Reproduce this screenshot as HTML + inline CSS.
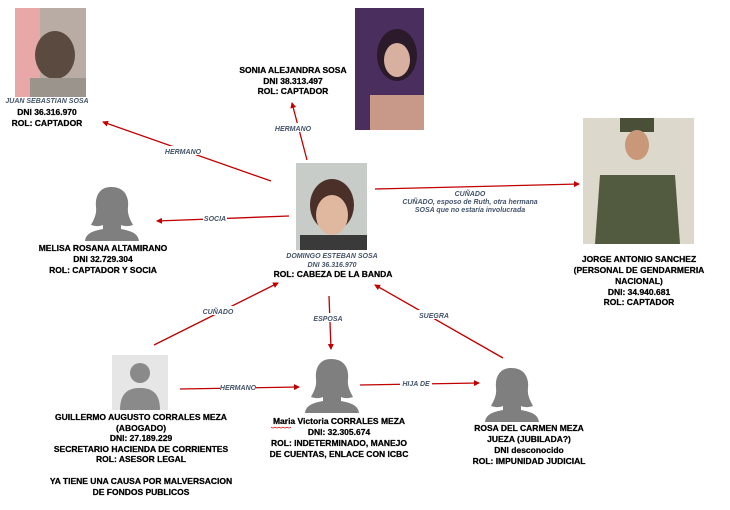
<!DOCTYPE html>
<html><head><meta charset="utf-8"><style>
body{margin:0;background:#fff}
svg{display:block}
.t{font-family:"Liberation Sans",Arial,sans-serif;font-weight:bold;font-size:8.5px;fill:#000;stroke:#000;stroke-width:0.25;text-anchor:middle}
.l{font-family:"Liberation Sans",Arial,sans-serif;font-weight:bold;font-style:italic;font-size:7px;fill:#44546a;text-anchor:middle}
</style></head><body>
<svg width="730" height="510" viewBox="0 0 730 510" xmlns="http://www.w3.org/2000/svg">
<defs>
<marker id="a" markerWidth="6" markerHeight="6" refX="5" refY="3" orient="auto" markerUnits="userSpaceOnUse"><path d="M0,0 L6,3 L0,6 z" fill="#c00000"/></marker>
<g id="fem"><path d="M26,2 C14,2 10,12 11,22 C12,30 8,36 6,40 C12,42 16,41 18,40 L18,44 C8,46 1,48 0,56 L54,56 C53,48 46,46 36,44 L36,40 C38,41 42,42 48,40 C46,36 42,30 43,22 C44,12 40,2 26,2 z" fill="#7f7f7f"/></g>
</defs>

<rect x="15" y="8" width="71" height="89" fill="#b8aca4"/>
<rect x="15" y="8" width="25" height="89" fill="#e8a8a8"/>
<ellipse cx="55" cy="55" rx="20" ry="24" fill="#5a4a40"/>
<rect x="30" y="78" width="56" height="19" fill="#9a948c"/>

<rect x="355" y="8" width="69" height="122" fill="#4a2e5e"/>
<ellipse cx="397" cy="55" rx="20" ry="26" fill="#2a1a2a"/>
<ellipse cx="397" cy="60" rx="13" ry="17" fill="#d8b0a0"/>
<rect x="370" y="95" width="54" height="35" fill="#c89888"/>

<rect x="296" y="163" width="71" height="87" fill="#c8ccc8"/>
<ellipse cx="332" cy="205" rx="22" ry="26" fill="#4a3028"/>
<ellipse cx="332" cy="215" rx="16" ry="20" fill="#e0b8a0"/>
<rect x="300" y="235" width="67" height="15" fill="#3a3a3a"/>

<rect x="583" y="118" width="111" height="126" fill="#ddd8cc"/>
<rect x="620" y="118" width="34" height="14" fill="#4a5038"/>
<ellipse cx="637" cy="145" rx="12" ry="15" fill="#c89878"/>
<path d="M600,175 L675,175 L680,244 L595,244 z" fill="#525a40"/>

<use href="#fem" x="85" y="185"/>
<rect x="112" y="355" width="56" height="55" fill="#e6e6e6"/>
<circle cx="140" cy="373" r="10" fill="#8a8a8a"/>
<path d="M120,410 C120,393 128,388 140,388 C152,388 160,393 160,410 z" fill="#8a8a8a"/>
<use href="#fem" x="305" y="357"/>
<use href="#fem" x="485" y="366"/>

<g stroke="#c00000" stroke-width="1.3" fill="none" marker-end="url(#a)">
<line x1="271" y1="181" x2="103" y2="122"/>
<line x1="307" y1="160" x2="292" y2="103"/>
<line x1="289" y1="216" x2="157" y2="221"/>
<line x1="375" y1="189" x2="579" y2="184"/>
<line x1="154" y1="345" x2="278" y2="283"/>
<line x1="329" y1="296" x2="331" y2="349"/>
<line x1="503" y1="358" x2="375" y2="285"/>
<line x1="180" y1="389" x2="299" y2="387"/>
<line x1="360" y1="385" x2="479" y2="383"/>
</g>
<g fill="#fff">
<rect x="163" y="146" width="40" height="9"/>
<rect x="274" y="123" width="38" height="9"/>
<rect x="203" y="213" width="24" height="9"/>
<rect x="201" y="306" width="34" height="9"/>
<rect x="312" y="313" width="32" height="9"/>
<rect x="418" y="310" width="32" height="9"/>
<rect x="220" y="382" width="36" height="9"/>
<rect x="400" y="378" width="32" height="9"/>
</g>
<g class="l">
<text x="183" y="154">HERMANO</text>
<text x="293" y="131">HERMANO</text>
<text x="215" y="221">SOCIA</text>
<text x="470" y="196">CUÑADO</text>
<text x="470" y="204">CUÑADO, esposo de Ruth, otra hermana</text>
<text x="470" y="212">SOSA que no estaría involucrada</text>
<text x="218" y="314">CUÑADO</text>
<text x="328" y="321">ESPOSA</text>
<text x="434" y="318">SUEGRA</text>
<text x="238" y="390">HERMANO</text>
<text x="416" y="386">HIJA DE</text>
<text x="47" y="103">JUAN SEBASTIAN SOSA</text>
<text x="332" y="258">DOMINGO ESTEBAN SOSA</text>
<text x="332" y="267">DNI 36.316.970</text>
</g>

<g class="t">
<text x="47" y="115">DNI 36.316.970</text>
<text x="47" y="126">ROL: CAPTADOR</text>
<text x="293" y="73">SONIA ALEJANDRA SOSA</text>
<text x="293" y="84">DNI 38.313.497</text>
<text x="293" y="94">ROL: CAPTADOR</text>
<text x="333" y="277">ROL: CABEZA DE LA BANDA</text>
<text x="103" y="251">MELISA ROSANA ALTAMIRANO</text>
<text x="103" y="262">DNI 32.729.304</text>
<text x="103" y="273">ROL: CAPTADOR Y SOCIA</text>
<text x="639" y="262">JORGE ANTONIO SANCHEZ</text>
<text x="639" y="273">(PERSONAL DE GENDARMERIA</text>
<text x="639" y="284">NACIONAL)</text>
<text x="639" y="295">DNI: 34.940.681</text>
<text x="639" y="305">ROL: CAPTADOR</text>
<text x="141" y="420">GUILLERMO AUGUSTO CORRALES MEZA</text>
<text x="141" y="431">(ABOGADO)</text>
<text x="141" y="441">DNI: 27.189.229</text>
<text x="141" y="452">SECRETARIO HACIENDA DE CORRIENTES</text>
<text x="141" y="462">ROL: ASESOR LEGAL</text>
<text x="141" y="484">YA TIENE UNA CAUSA POR MALVERSACION</text>
<text x="141" y="495">DE FONDOS PUBLICOS</text>
<text x="339" y="424">Maria Victoria CORRALES MEZA</text>
<text x="339" y="435">DNI: 32.305.674</text>
<text x="339" y="446">ROL: INDETERMINADO, MANEJO</text>
<text x="339" y="457">DE CUENTAS, ENLACE CON ICBC</text>
<text x="529" y="431">ROSA DEL CARMEN MEZA</text>
<text x="529" y="442">JUEZA (JUBILADA?)</text>
<text x="529" y="453">DNI desconocido</text>
<text x="529" y="464">ROL: IMPUNIDAD JUDICIAL</text>
</g>
<path d="M271,427 q2,2 4,0 q2,2 4,0 q2,2 4,0 q2,2 4,0 q2,2 4,0" stroke="#c00" stroke-width="0.6" fill="none"/>
</svg>
</body></html>
